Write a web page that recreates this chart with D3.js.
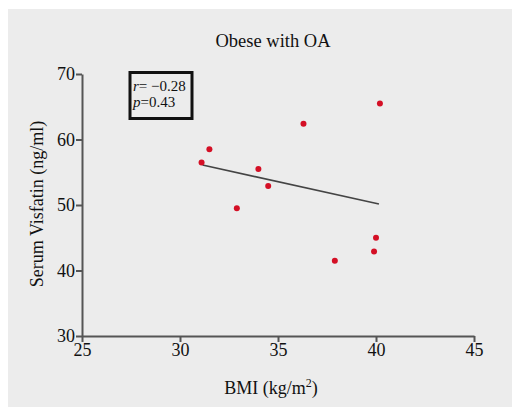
<!DOCTYPE html>
<html>
<head>
<meta charset="utf-8">
<script src="https://cdn.jsdelivr.net/npm/d3@7"></script>
<style>
  body { margin: 0; background: #fff; }
  text { font-family: "Liberation Serif", "Times New Roman", serif; fill: #111; }
</style>
</head>
<body>
<div id="chart"></div>
<script>
// data
var bmi      = [31.1, 31.5, 32.9, 34.0, 34.5, 36.3, 37.9, 40.0, 39.9, 40.2];
var visfatin = [56.5, 58.5, 49.5, 55.5, 52.9, 62.4, 41.5, 45.0, 42.9, 65.5];
var fitX = [31.15, 40.15];
var fitY = [56.1, 50.15];
var xTicks = [25, 30, 35, 40, 45];
var yTicks = [30, 40, 50, 60, 70];

var width = 512, height = 409;

var svg = d3.select("#chart").append("svg")
    .attr("width", width)
    .attr("height", height);

svg.append("rect")
    .attr("x", 8).attr("y", 9)
    .attr("width", width - 8).attr("height", 398)
    .attr("fill", "#ececec");

var x = d3.scaleLinear().domain([25, 45]).range([82, 474]);
var y = d3.scaleLinear().domain([30, 70]).range([336, 74]);

var xAxis = svg.append("g")
    .attr("transform", "translate(0," + y(30) + ")")
    .call(d3.axisBottom(x).tickValues(xTicks).tickSize(6).tickPadding(1).tickSizeOuter(0));
var yAxis = svg.append("g")
    .attr("transform", "translate(" + x(25) + ",0)")
    .call(d3.axisLeft(y).tickValues(yTicks).tickSize(6).tickPadding(1).tickSizeOuter(0));

[xAxis, yAxis].forEach(function(a) {
  a.select(".domain").attr("stroke", "#555").attr("stroke-width", 2);
  a.selectAll(".tick line").attr("stroke", "#555").attr("stroke-width", 2);
  a.selectAll(".tick text")
    .style("font-family", "Liberation Serif, serif")
    .style("font-size", "18px")
    .attr("fill", "#111");
});

// regression line
svg.append("line")
    .attr("x1", x(fitX[0])).attr("y1", y(fitY[0]))
    .attr("x2", x(fitX[1])).attr("y2", y(fitY[1]))
    .attr("stroke", "#444")
    .attr("stroke-width", 1.6);

// points
svg.selectAll(".dot")
    .data(bmi.map(function(d, i) { return [d, visfatin[i]]; }))
    .enter().append("circle")
    .attr("class", "dot")
    .attr("cx", function(d) { return x(d[0]); })
    .attr("cy", function(d) { return y(d[1]); })
    .attr("r", 3)
    .attr("fill", "#d40f25");

// title
svg.append("text")
    .attr("x", 273).attr("y", 47)
    .attr("text-anchor", "middle")
    .style("font-size", "18.5px")
    .text("Obese with OA");

// axis titles
svg.append("text")
    .attr("transform", "translate(43,204) rotate(-90)")
    .attr("text-anchor", "middle")
    .style("font-size", "18px")
    .text("Serum Visfatin (ng/ml)");

var xl = svg.append("text")
    .attr("x", 271).attr("y", 394)
    .attr("text-anchor", "middle")
    .style("font-size", "18px");
xl.append("tspan").text("BMI (kg/m");
xl.append("tspan").attr("dy", -7).style("font-size", "12px").text("2");
xl.append("tspan").attr("dy", 7).text(")");

// stats box
svg.append("rect")
    .attr("x", 130).attr("y", 72.5)
    .attr("width", 62).attr("height", 46)
    .attr("fill", "none")
    .attr("stroke", "#111")
    .attr("stroke-width", 3);

var t1 = svg.append("text").attr("x", 133).attr("y", 91).style("font-size", "15px");
t1.append("tspan").style("font-style", "italic").text("r");
t1.append("tspan").text("= \u22120.28");
var t2 = svg.append("text").attr("x", 133).attr("y", 107).style("font-size", "15px");
t2.append("tspan").style("font-style", "italic").text("p");
t2.append("tspan").text("=0.43");
</script>
</body>
</html>
